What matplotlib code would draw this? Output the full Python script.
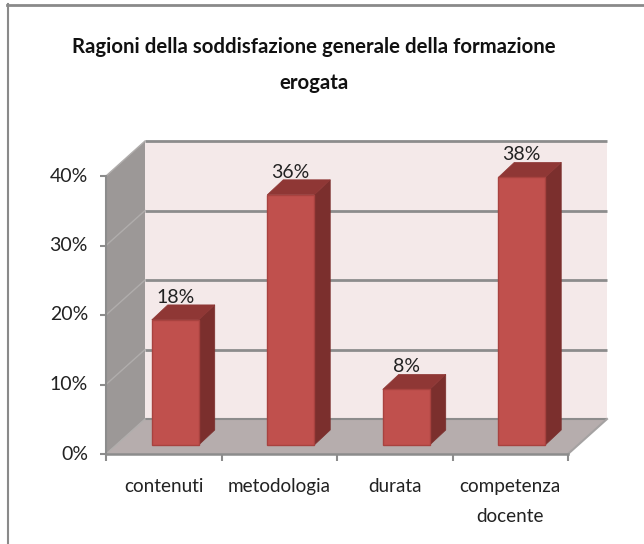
import matplotlib
matplotlib.use("Agg")
import matplotlib.pyplot as plt
from matplotlib.patches import Polygon, Rectangle
from matplotlib.lines import Line2D

categories = ["contenuti", "metodologia", "durata", "competenza\ndocente"]
values = [18, 36, 8, 38.5]
value_labels = ["18%", "36%", "8%", "38%"]
yticks = [0, 10, 20, 30, 40]
ytick_labels = ["0%", "10%", "20%", "30%", "40%"]
title = "Ragioni della soddisfazione generale della formazione\nerogata"

W, H = 644, 544
PX_X, PX_Y = 115.5, 6.95      # pixels per category / per percent
fig = plt.figure(figsize=(W/100, H/100), dpi=100, facecolor="white")
ax = fig.add_axes([0, 0, 1, 1])
ax.set_xlim(-163.75/PX_X, (W-163.75)/PX_X)
ax.set_ylim((454-H)/PX_Y, 454/PX_Y)
ax.axis("off")
plt.rcParams["font.family"] = ["Lato", "DejaVu Sans"]

DX, DY = 39/PX_X, 35/PX_Y              # depth of the chart box
x0, x1 = -0.5, len(categories)-0.5
top = yticks[-1]
LINE = "#8c8c8c"
WALL, SIDE, FLOOR = "#f4e9e9", "#9c9897", "#b6adad"
TXT = "#222222"

# walls and floor
ax.add_patch(Polygon([(x0+DX, DY), (x1+DX, DY), (x1+DX, top+DY), (x0+DX, top+DY)], fc=WALL, ec="none", zorder=1))
ax.add_patch(Polygon([(x0, 0), (x0+DX, DY), (x0+DX, top+DY), (x0, top)], fc=SIDE, ec="none", zorder=1))
ax.add_patch(Polygon([(x0, 0), (x1, 0), (x1+DX, DY), (x0+DX, DY)], fc=FLOOR, ec="none", zorder=1))

# gridlines on back and side wall
for t in yticks:
    lw = 2.0 if t else 1.5
    ax.plot([x0+DX, x1+DX], [t+DY, t+DY], color=LINE, lw=lw, solid_capstyle="butt", zorder=2)
    ax.plot([x0, x0+DX], [t, t+DY], color="#b0adac", lw=1.0, zorder=2)
    ax.plot([x0-6/PX_X, x0], [t, t], color=LINE, lw=1.5, solid_capstyle="butt", zorder=3)
    ax.text(x0-18/PX_X, t, ytick_labels[yticks.index(t)], ha="right", va="center",
            fontsize=14, color=TXT, zorder=6)
ax.plot([x1, x1+DX], [0, DY], color="#a5a2a2", lw=1.5, zorder=2)

# axis lines
ax.plot([x0, x0], [0, top], color=LINE, lw=1.5, zorder=3)
ax.plot([x0, x1], [0, 0], color=LINE, lw=1.8, zorder=3)
for i in range(len(categories)+1):
    ax.plot([x0+i, x0+i], [0, -7/PX_Y], color=LINE, lw=1.5, solid_capstyle="butt", zorder=3)

# bars
BW = 47/PX_X
BOX, BOY = 11.5/PX_X, 9/PX_Y          # bar position inside the depth
BDX, BDY = 16/PX_X, 15/PX_Y           # bar depth
for i, v in enumerate(values):
    l, r = i-BW/2+BOX, i+BW/2+BOX
    ax.add_patch(Polygon([(r, BOY), (r+BDX, BOY+BDY), (r+BDX, v+BOY+BDY), (r, v+BOY)],
                         fc="#7b2f2d", ec="#7b2f2d", lw=0.5, zorder=4))
    ax.add_patch(Polygon([(l, v+BOY), (r, v+BOY), (r+BDX, v+BOY+BDY), (l+BDX, v+BOY+BDY)],
                         fc="#8f3735", ec="#8f3735", lw=0.5, zorder=4))
    ax.add_patch(Rectangle((l, BOY), BW, v, fc="#c0504d", ec="#a8423f", lw=1.0, zorder=5))
    ax.text((l+r)/2, v+BOY+BDY+2/PX_Y, value_labels[i], ha="center", va="baseline",
            fontsize=14, color=TXT, zorder=6)

# category labels
for i, c in enumerate(categories):
    ax.text(i, -24/PX_Y, c, ha="center", va="top", fontsize=13.6, color=TXT,
            linespacing=1.95, zorder=6)

# title
fig.text(313.5/W, 1-65/H, title, ha="center", va="center", fontsize=14.7, fontweight="bold",
         color="#111111", linespacing=1.95)

# outer frame and the cut-off text above it
fig.add_artist(Line2D([7.5/W, 7.5/W], [0, 1-4/H], color="#8a8a8a", lw=1.5))
fig.add_artist(Line2D([7/W, 1], [1-4.5/H, 1-4.5/H], color="#8a8a8a", lw=2))
fig.text(162/W, 1+4/H, "g", ha="center", va="baseline", family="Liberation Serif", fontsize=14, color="#111111")

fig.savefig("out.png", dpi=100, facecolor="white")
